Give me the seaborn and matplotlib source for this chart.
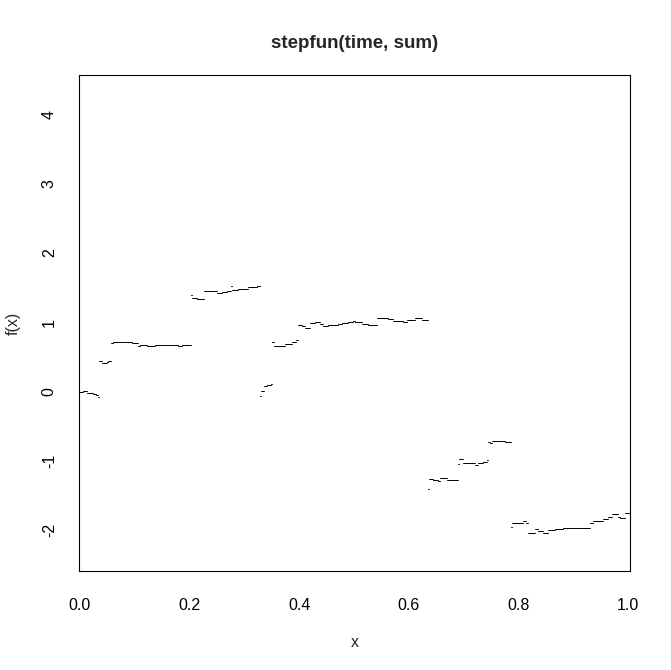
import numpy as np
import pandas as pd
import matplotlib
matplotlib.use("Agg")
import matplotlib.pyplot as plt
import seaborn as sns

# jump points of the step function and the value taken after each jump
knots = [0.000, 0.006, 0.012, 0.024, 0.030, 0.0335, 0.0347, 0.0395, 0.0487, 0.0517,
         0.0566, 0.0608, 0.0760, 0.0943, 0.1052, 0.1095, 0.1217, 0.1369, 0.1612, 0.1794,
         0.1855, 0.2026, 0.2050, 0.2130, 0.2269, 0.2494, 0.2585, 0.2676, 0.2755, 0.2780,
         0.2889, 0.3072, 0.3224, 0.3291, 0.3309, 0.3352, 0.3406, 0.3485, 0.3510, 0.3546,
         0.3741, 0.3863, 0.3936, 0.3972, 0.4045, 0.4106, 0.4197, 0.4288, 0.4380, 0.4440,
         0.4532, 0.4714, 0.4775, 0.4897, 0.4988, 0.5018, 0.5140, 0.5261, 0.5414, 0.5626,
         0.5718, 0.5900, 0.5961, 0.6113, 0.6235, 0.6356, 0.6368, 0.6448, 0.6539, 0.6569,
         0.6691, 0.6813, 0.6904, 0.6922, 0.6995, 0.7208, 0.7269, 0.7360, 0.7421, 0.7451,
         0.7482, 0.7512, 0.7755, 0.7865, 0.7877, 0.8090, 0.8133, 0.8181, 0.8303, 0.8364,
         0.8455, 0.8546, 0.8668, 0.8820, 0.9094, 0.9307, 0.9368, 0.9550, 0.9641, 0.9702,
         0.9824, 0.9854, 0.9950]
levels = [0.000, 0.015, -0.019, -0.033, -0.052, -0.076, 0.438, 0.414, 0.428, 0.448,
          0.698, 0.717, 0.712, 0.702, 0.655, 0.669, 0.660, 0.679, 0.669, 0.655,
          0.669, 1.391, 1.352, 1.333, 1.448, 1.419, 1.438, 1.458, 1.525, 1.467,
          1.487, 1.506, 1.525, -0.067, 0.005, 0.077, 0.101, 0.115, 0.717, 0.664,
          0.688, 0.712, 0.741, 0.967, 0.943, 0.919, 0.992, 1.006, 0.982, 0.953,
          0.967, 0.977, 0.987, 1.001, 1.025, 1.011, 0.977, 0.967, 1.059, 1.044,
          1.020, 1.001, 1.035, 1.059, 1.035, -1.409, -1.260, -1.274, -1.289, -1.250,
          -1.269, -1.279, -1.043, -0.966, -1.034, -1.058, -1.034, -1.010, -0.990, -0.721,
          -0.745, -0.716, -0.731, -1.948, -1.890, -1.866, -1.890, -2.034, -1.986, -2.010,
          -2.044, -1.996, -1.986, -1.972, -1.962, -1.900, -1.866, -1.842, -1.804, -1.770,
          -1.804, -1.818, -1.746]

xlim = (-0.0018, 1.0036)
ylim = (-2.587, 4.570)

# each step becomes a horizontal piece from its knot to the next one
starts = [xlim[0]] + knots[1:]
ends = knots[1:] + [xlim[1]]
rows = []
for i, (a, b, v) in enumerate(zip(starts, ends, levels)):
    rows.append({"x": a, "y": v, "seg": i})
    rows.append({"x": b, "y": v, "seg": i})
df = pd.DataFrame(rows)

sns.set_style("white")
plt.rcParams["font.family"] = ["Liberation Sans", "DejaVu Sans"]

fig = plt.figure(figsize=(6.71, 6.70), dpi=100)
ax = fig.add_axes([79 / 671, 1 - 571 / 670, 551 / 671, 496 / 670])

sns.lineplot(data=df, x="x", y="y", units="seg", estimator=None, sort=False,
             color="black", linewidth=0.7, ax=ax)

ax.set_xlim(*xlim)
ax.set_ylim(*ylim)
ax.set_xticks([0.0, 0.2, 0.4, 0.6, 0.8, 1.0])
ax.set_xticklabels(["0.0", "0.2", "0.4", "0.6", "0.8", "1.0"])
ax.set_yticks([-2, -1, 0, 1, 2, 3, 4])
ax.set_yticklabels(["-2", "-1", "0", "1", "2", "3", "4"], rotation=90, va="center")
ax.tick_params(axis="both", direction="out", length=5, width=0.8, color="black",
               labelsize=11.5, labelcolor="black")
ax.tick_params(axis="x", pad=14.5)
ax.tick_params(axis="y", pad=11)
for s in ax.spines.values():
    s.set_visible(True)
    s.set_color("black")
    s.set_linewidth(0.8)

ax.set_xlabel("x", fontsize=11.5, labelpad=16)
ax.set_ylabel("f(x)", fontsize=11.5, labelpad=15)
ax.set_title("stepfun(time, sum)", fontsize=13.5, fontweight="bold", pad=19.5)

fig.savefig("out.png", dpi=100)
